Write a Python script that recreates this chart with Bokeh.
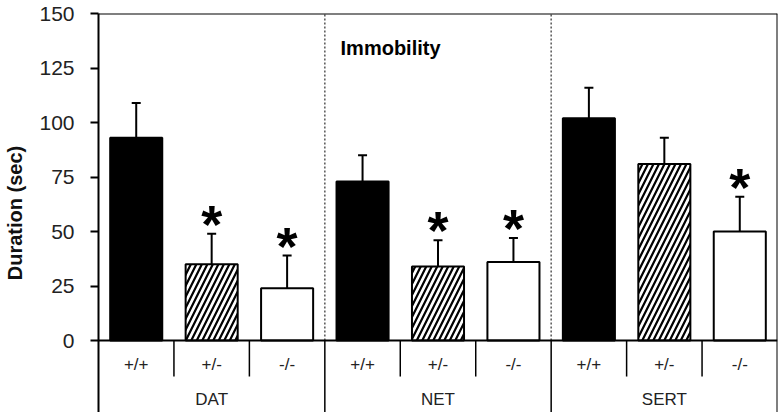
from bokeh.plotting import figure
from bokeh.models import FactorRange, ColumnDataSource, Whisker, TeeHead, FixedTicker, Span
from bokeh.transform import factor_cmap, factor_hatch
from bokeh.core.properties import value
from bokeh.embed import file_html
from bokeh.resources import INLINE

# ---- data ----
groups = ["DAT", "NET", "SERT"]
genotypes = ["+/+", "+/-", "-/-"]
dat_mean = [93, 35, 24]
dat_sem = [16, 14, 15]
net_mean = [73, 34, 36]
net_sem = [12, 12, 11]
sert_mean = [102, 81, 50]
sert_sem = [14, 12, 16]
dat_sig = [False, True, True]
net_sig = [False, True, True]
sert_sig = [False, False, True]
y_ticks = [0, 25, 50, 75, 100, 125, 150]
y_label = "Duration (sec)"
panel_title = "Immobility"

# ---- layout constants ----
Y_MAX = 150
Y_MIN = -33.0
SUB_LABEL_Y = -11
SUB_SEP_Y = -16.5
GROUP_LABEL_Y = -27
TITLE_Y = 134
FONT = "Liberation Sans"

x = [(g, k) for g in groups for k in genotypes]
means = dat_mean + net_mean + sert_mean
sems = dat_sem + net_sem + sert_sem
sigs = dat_sig + net_sig + sert_sig
src = ColumnDataSource(dict(
    x=x,
    mean=means,
    top=[m + s for m, s in zip(means, sems)],
    star=["*" if s else "" for s in sigs],
))

p = figure(
    x_range=FactorRange(*x, factor_padding=0, subgroup_padding=0, group_padding=0, range_padding=0),
    y_range=(Y_MIN, Y_MAX),
    width=780, height=412,
    output_backend="svg", toolbar_location=None,
    x_axis_location=None,
    min_border_left=98, min_border_right=3, min_border_top=13, min_border_bottom=0,
)
p.grid.visible = False
p.outline_line_color = None

ax = p.yaxis[0]
ax.ticker = FixedTicker(ticks=y_ticks)
ax.minor_tick_line_color = None
ax.major_tick_in = 0
ax.major_tick_out = 8
ax.major_tick_line_width = 2
ax.axis_line_width = 2
ax.major_label_standoff = 16
ax.major_label_text_font = FONT
ax.major_label_text_font_size = "21px"
ax.major_label_text_color = "#222222"
ax.axis_label = y_label
ax.axis_label_text_font = FONT
ax.axis_label_text_font_size = "20px"
ax.axis_label_text_font_style = "bold"
ax.axis_label_text_color = "#111111"
ax.axis_label_standoff = 10

# frame top border and x axis line
p.add_layout(Span(location=Y_MAX, dimension="width", line_color="black", line_width=2))
p.add_layout(Span(location=0, dimension="width", line_color="black", line_width=2))

# bars
p.vbar(
    x="x", top="mean", width=0.69, source=src,
    fill_color=factor_cmap("x", ["black", "white", "white"], genotypes, start=1, end=2),
    hatch_pattern=factor_hatch("x", [" ", "/", " "], genotypes, start=1, end=2),
    hatch_color="black", hatch_scale=11, hatch_weight=2.2,
    line_color="black", line_width=2,
)

# error bars (upper only)
p.add_layout(Whisker(
    source=src, base="x", lower="mean", upper="top",
    line_color="black", line_width=2,
    upper_head=TeeHead(size=9, line_width=2, line_color="black"),
    lower_head=None,
))

# significance stars
p.text(x="x", y="top", text="star", source=src,
       text_font=value(FONT), text_font_size="54px", text_font_style="bold",
       text_align="center", text_baseline="alphabetic", y_offset=-10, text_color="black")

# group separators: dotted above axis, solid below
inner_bounds = [(g, genotypes[0], -0.5) for g in groups[1:]]
p.segment(x0=inner_bounds, y0=[0] * len(inner_bounds), x1=inner_bounds, y1=[Y_MAX] * len(inner_bounds),
          line_color="#555555", line_width=1.5, line_dash="2 2")
p.segment(x0=inner_bounds, y0=[Y_MIN] * len(inner_bounds), x1=inner_bounds, y1=[0] * len(inner_bounds),
          line_color="black", line_width=1.5)
right_bound = [(groups[-1], genotypes[-1], 0.5)]
p.segment(x0=right_bound, y0=[Y_MIN], x1=right_bound, y1=[Y_MAX], line_color="black", line_width=2)

# sub-category separators below axis
sub_bounds = [(g, k, -0.5) for g in groups for k in genotypes[1:]]
p.segment(x0=sub_bounds, y0=[SUB_SEP_Y] * len(sub_bounds), x1=sub_bounds, y1=[0] * len(sub_bounds),
          line_color="black", line_width=1.5)

# category labels
p.text(x=x, y=[SUB_LABEL_Y] * len(x), text=[k for _, k in x],
       text_font=value(FONT), text_font_size="17px", text_color="#222222",
       text_align="center", text_baseline="middle")
p.text(x=[(g, genotypes[1]) for g in groups], y=[GROUP_LABEL_Y] * len(groups), text=groups,
       text_font=value(FONT), text_font_size="17px", text_color="#222222",
       text_align="center", text_baseline="middle")

# panel title
p.text(x=[("NET", genotypes[0])], y=[TITLE_Y], text=[panel_title],
       text_font=value(FONT), text_font_size="20px", text_font_style="bold",
       text_align="left", text_baseline="alphabetic", x_offset=-22, text_color="black")

open("out.html", "w").write(file_html(p, INLINE))
